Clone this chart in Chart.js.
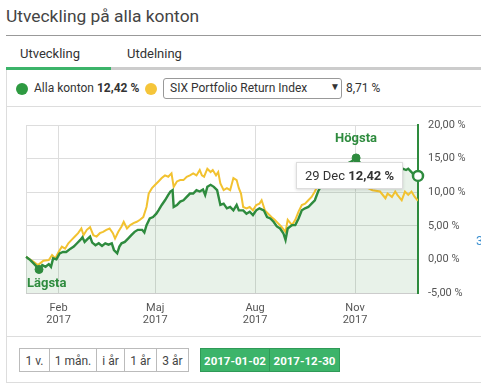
<!DOCTYPE html>
<html>
<head>
<meta charset="utf-8">
<script src="https://cdn.jsdelivr.net/npm/chart.js@4"></script>
<style>
  body { margin:0; background:#fff; font-family: Roboto, "Noto Sans", sans-serif; color:#333; }
  #page { position:relative; width:481px; height:392px; overflow:hidden; }
  .abs { position:absolute; white-space:nowrap; }
  #title { left:6px; top:6px; font-size:17.4px; color:#444; }
  .hline { position:absolute; height:1px; background:#ddd; }
  .tab { top:46px; font-size:13px; color:#333; }
  .dot { position:absolute; width:12px; height:12px; border-radius:50%; }
  #select { left:163px; top:78px; width:177px; height:19px; border:1px solid #999; border-radius:3px; font-size:12px; }
  .btn { position:absolute; top:348px; height:24px; line-height:24px; font-size:12px; text-align:center; color:#444; border:1px solid #bbb; box-sizing:border-box; background:#fff; }
  .gbtn { background:#3cb46a; border-color:#2f9a57; color:#fff; font-weight:bold; font-size:11.5px; }
  #tip { background:#fff; border:1px solid #ddd; box-shadow:0 1px 3px rgba(0,0,0,0.15); font-size:13px; color:#333; padding:0 8px; height:25px; line-height:25px; }
  .mark { font-size:13px; font-weight:bold; color:#2e8b3e; }
</style>
</head>
<body>
<div id="page">
  <div class="abs" id="title">Utveckling på alla konton</div>
  <div class="hline" style="left:6px;top:35px;width:475px;background:#999;"></div>

  <div class="abs tab" style="left:20px;">Utveckling</div>
  <div class="abs tab" style="left:127px;">Utdelning</div>
  <div class="abs" style="left:6px;top:67px;width:475px;height:3px;background:#ccc;"></div>
  <div class="abs" style="left:6px;top:67px;width:105px;height:3px;background:#3cb46a;"></div>

  <div class="abs" style="left:6px;top:70px;width:1px;height:313px;background:#ddd;"></div>
  <div class="hline" style="left:6px;top:382px;width:475px;"></div>

  <div class="dot" style="left:16px;top:83px;background:#2e9a41;"></div>
  <div class="abs" style="left:34px;top:81px;font-size:12px;">Alla konton <b>12,42 %</b></div>
  <div class="dot" style="left:145px;top:83px;background:#f5c53a;"></div>
  <div class="abs" id="select"><span class="abs" style="left:6px;top:2px;">SIX Portfolio Return Index</span><span class="abs" style="left:166px;top:2px;font-size:10px;">▼</span></div>
  <div class="abs" style="left:346px;top:81px;font-size:12px;">8,71 %</div>
  <div class="hline" style="left:6px;top:106px;width:475px;"></div>

  <div class="abs" style="left:6px;top:107px;width:475px;height:228px;">
    <canvas id="chart" width="475" height="228"></canvas>
  </div>
  <div class="abs mark" id="hogsta">Högsta</div>
  <div class="abs mark" id="lagsta">Lägsta</div>
  <div class="abs" id="tip">29 Dec <b>12,42 %</b></div>
  <div class="abs" style="left:476px;top:233px;font-size:13px;color:#3a8fd0;">3</div>

  <div class="hline" style="left:6px;top:336px;width:475px;"></div>

  <div class="btn" style="left:19px;width:31px;">1 v.</div>
  <div class="btn" style="left:49px;width:48px;">1 mån.</div>
  <div class="btn" style="left:96px;width:29px;">i år</div>
  <div class="btn" style="left:124px;width:33px;">1 år</div>
  <div class="btn" style="left:156px;width:33px;">3 år</div>
  <div class="btn gbtn" style="left:200px;width:70px;">2017-01-02</div>
  <div class="btn gbtn" style="left:269px;width:71px;">2017-12-30</div>
</div>

<script>
// day of year 2017 (Jan 1 = 0) and return in %
const kontoDays = [1, 5, 8, 11, 13, 16, 19, 22, 24, 26, 29, 32, 35, 38, 42, 45, 48, 51, 53, 55, 58, 60,
  62, 65, 68, 71, 74, 77, 80, 82, 85, 87, 89, 92, 95, 98, 101, 104, 108, 110, 112, 115, 118, 121, 123,
  126, 129, 132, 134, 136, 137, 140, 143, 146, 149, 152, 155, 158, 161, 164, 166, 168, 171, 174, 177,
  180, 183, 186, 189, 192, 195, 197, 201, 204, 207, 210, 213, 216, 220, 223, 226, 229, 232, 235, 238,
  240, 242, 246, 249, 252, 255, 258, 261, 264, 267, 270, 273, 278, 283, 287, 292, 296, 301, 305, 309,
  314, 319, 323, 328, 332, 337, 341, 345, 348, 351, 353, 356, 358, 362];
const kontoValues = [0.4, -0.1, -0.6, -1.1, -1.5, -0.85, -1.1, -0.7, -1.1, 0.15, 0, 0.9, 1.1, 1.1, 1.6,
  1.9, 2.4, 2.9, 3.3, 2.6, 3.1, 3.4, 2.5, 2.1, 2.4, 2.0, 2.4, 2.2, 2.4, 1.4, 0.9, 1.9, 2.4, 2.6, 3.1,
  3.6, 4.1, 4.4, 4.4, 4.0, 5.1, 6.1, 6.3, 6.8, 7.3, 8.1, 8.8, 9.6, 10.1, 10.3, 7.8, 8.1, 8.6, 8.8, 9.3,
  9.8, 9.8, 10.3, 10.1, 10.4, 9.6, 10.8, 11.1, 10.8, 10.3, 8.1, 8.3, 7.6, 7.8, 7.3, 8.1, 7.3, 7.3, 6.8,
  7.1, 6.6, 7.3, 7.6, 7.3, 6.3, 6.1, 5.6, 4.9, 4.6, 3.9, 2.9, 4.6, 5.1, 5.1, 6.1, 7.3, 7.6, 7.8, 8.3,
  8.8, 10.1, 11.0, 12.0, 12.5, 13.3, 13.8, 14.2, 14.6, 15.1, 14.3, 13.9, 13.4, 13.8, 13.1, 13.5, 12.9,
  13.2, 13.0, 13.5, 13.3, 13.5, 13.0, 12.6, 12.42];

const indexDays = [1, 8, 12, 17, 22, 25, 28, 31, 34, 37, 40, 43, 46, 49, 52, 54, 57, 60, 63, 66, 69, 72,
  75, 78, 81, 83, 86, 89, 91, 94, 97, 100, 103, 106, 109, 112, 114, 117, 120, 123, 126, 129, 132, 135,
  137, 140, 143, 146, 149, 152, 155, 158, 161, 163, 165, 168, 171, 173, 176, 178, 180, 183, 186, 189,
  192, 195, 197, 199, 201, 204, 207, 210, 213, 216, 218, 221, 224, 227, 230, 233, 236, 240, 242, 246,
  249, 252, 255, 258, 261, 264, 267, 270, 275, 281, 286, 292, 297, 303, 308, 312, 316, 320, 327, 332,
  334, 338, 341, 343, 347, 350, 353, 356, 359, 362];
const indexValues = [0.4, -0.35, -0.85, -0.2, -0.1, 0.65, 0.15, 1.1, 1.9, 1.6, 2.4, 2.9, 3.4, 3.9, 4.6,
  3.6, 4.4, 4.8, 3.6, 3.4, 3.9, 4.1, 4.4, 4.6, 3.9, 3.1, 4.1, 4.9, 5.6, 4.6, 5.1, 5.4, 5.6, 5.9, 6.3,
  7.8, 9.8, 10.6, 11.1, 11.6, 12.1, 12.5, 12.3, 12.8, 10.8, 11.6, 11.8, 11.8, 12.3, 12.5, 12.8, 12.5,
  13.3, 12.5, 12.3, 13.5, 13.0, 13.3, 12.5, 13.0, 11.3, 10.3, 10.6, 10.3, 12.1, 11.8, 10.6, 9.8, 7.8,
  7.6, 7.8, 7.3, 8.1, 8.3, 8.8, 7.3, 6.8, 6.3, 5.9, 5.4, 4.9, 4.1, 5.9, 5.1, 5.9, 7.1, 8.1, 8.3, 8.8,
  9.3, 10.1, 11.1, 12.0, 12.5, 12.3, 12.0, 11.6, 11.2, 11.0, 10.8, 10.6, 10.3, 10.1, 9.1, 9.8, 9.3,
  10.1, 9.6, 8.8, 10.1, 9.6, 10.1, 9.3, 8.71];

const monthTicks = [31, 120, 212, 304];
const monthLabels = [['Feb', '2017'], ['Maj', '2017'], ['Aug', '2017'], ['Nov', '2017']];
const firstDay = 1, lastDay = 362;

const green = '#2e8b3e';
const yellow = '#f2c230';

const minIdx = kontoValues.indexOf(Math.min(...kontoValues));
const maxIdx = kontoValues.indexOf(Math.max(...kontoValues));
const lastIdx = kontoValues.length - 1;

const toPoints = (days, vals) => days.map((d, i) => ({ x: d, y: vals[i] }));

// place the html labels next to the chart's own points
const labelPlugin = {
  id: 'labels',
  afterDraw(chart) {
    const off = chart.canvas.getBoundingClientRect();
    const pts = chart.getDatasetMeta(0).data;
    const hi = pts[maxIdx], lo = pts[minIdx], last = pts[lastIdx];
    const h = document.getElementById('hogsta');
    h.style.left = (off.left + hi.x - h.offsetWidth / 2) + 'px';
    h.style.top = (off.top + hi.y - 28) + 'px';
    const l = document.getElementById('lagsta');
    l.style.left = (off.left + lo.x - 12) + 'px';
    l.style.top = (off.top + lo.y + 6) + 'px';
    const t = document.getElementById('tip');
    t.style.left = (off.left + last.x - 15 - t.offsetWidth) + 'px';
    t.style.top = (off.top + last.y - 14) + 'px';
  }
};

new Chart(document.getElementById('chart'), {
  type: 'line',
  data: {
    datasets: [{
      data: toPoints(kontoDays, kontoValues),
      borderColor: green,
      borderWidth: 2.4,
      backgroundColor: 'rgba(46,139,58,0.11)',
      fill: 'start',
      tension: 0,
      clip: 8,
      pointRadius: c => c.dataIndex === lastIdx ? 5 : (c.dataIndex === minIdx || c.dataIndex === maxIdx ? 4 : 0),
      pointBackgroundColor: c => c.dataIndex === lastIdx ? '#fff' : green,
      pointBorderColor: green,
      pointBorderWidth: c => c.dataIndex === lastIdx ? 2.5 : 1
    }, {
      data: toPoints(indexDays, indexValues),
      borderColor: yellow,
      borderWidth: 2,
      fill: false,
      tension: 0,
      pointRadius: 0
    }]
  },
  options: {
    responsive: false,
    animation: false,
    layout: { padding: { left: 20, top: 18, right: 0, bottom: 0 } },
    plugins: {
      legend: { display: false },
      tooltip: { enabled: false },
      filler: { drawTime: 'beforeDatasetsDraw' }
    },
    scales: {
      x: {
        type: 'linear',
        min: firstDay,
        max: lastDay,
        afterBuildTicks: s => { s.ticks = [firstDay, ...monthTicks, lastDay].map(v => ({ value: v })); },
        afterFit: s => { s.height = 42; },
        ticks: {
          autoSkip: false,
          maxRotation: 0,
          padding: 9,
          color: '#555',
          font: { family: 'Roboto', size: 11, lineHeight: 1.1 },
          callback: v => { const i = monthTicks.indexOf(v); return i < 0 ? '' : monthLabels[i]; }
        },
        grid: { color: '#ddd', drawTicks: false },
        border: { color: '#ccc' }
      },
      y: {
        position: 'right',
        min: -5,
        max: 20,
        afterFit: s => { s.width = 63; },
        ticks: {
          stepSize: 5,
          padding: 10,
          color: '#555',
          font: { family: 'Roboto', size: 11 },
          callback: v => v.toFixed(2).replace('.', ',') + ' %'
        },
        grid: { color: '#ddd', drawTicks: false },
        border: { color: green, width: 2 }
      }
    }
  },
  plugins: [labelPlugin]
});
</script>
</body>
</html>
